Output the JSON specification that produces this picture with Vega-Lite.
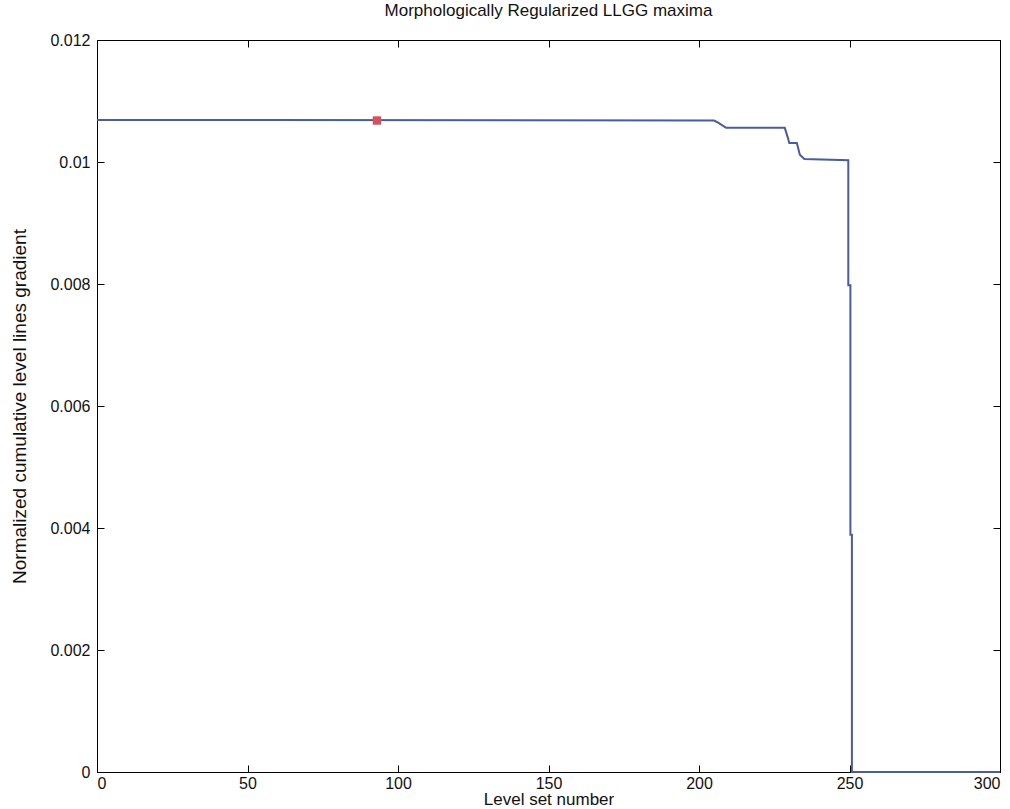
{
  "$schema": "https://vega.github.io/schema/vega-lite/v6.json",
  "autosize": "none",
  "width": 903,
  "height": 732,
  "padding": {"left": 97, "top": 40, "right": 10, "bottom": 37},
  "background": "white",
  "title": {"text": "Morphologically Regularized LLGG maxima", "font": "Liberation Sans", "fontSize": 17, "fontWeight": "normal", "color": "#111", "offset": 12},
  "config": {
    "view": {"stroke": "black", "strokeWidth": 1},
    "axis": {"labelFont": "Liberation Sans", "titleFont": "Liberation Sans", "labelFontSize": 16, "titleFontSize": 17, "titleFontWeight": "normal", "labelColor": "#111", "titleColor": "#111", "domainColor": "black", "tickColor": "black", "grid": false}
  },
  "datasets": {
    "curve": [
      {"i": 1, "level": 0, "value": 0.01069},
      {"i": 2, "level": 205, "value": 0.01068},
      {"i": 3, "level": 206.5, "value": 0.01064},
      {"i": 4, "level": 209, "value": 0.01056},
      {"i": 5, "level": 228.5, "value": 0.01056},
      {"i": 6, "level": 229.5, "value": 0.01040},
      {"i": 7, "level": 230, "value": 0.01031},
      {"i": 8, "level": 232.5, "value": 0.01031},
      {"i": 9, "level": 233.5, "value": 0.01012},
      {"i": 10, "level": 235, "value": 0.01005},
      {"i": 11, "level": 249.6, "value": 0.01003},
      {"i": 12, "level": 249.6, "value": 0.00798},
      {"i": 13, "level": 250.3, "value": 0.00798},
      {"i": 14, "level": 250.3, "value": 0.00389},
      {"i": 15, "level": 250.8, "value": 0.00389},
      {"i": 16, "level": 250.8, "value": 0},
      {"i": 17, "level": 300, "value": 0}
    ],
    "marker": [
      {"level": 93, "value": 0.01068}
    ]
  },
  "layer": [
    {
      "data": {"name": "curve"},
      "mark": {"type": "line", "color": "#4a5b9e", "strokeWidth": 2},
      "encoding": {
        "x": {"field": "level", "type": "quantitative", "scale": {"domain": [0, 300], "nice": false}, "axis": {"title": "Level set number", "values": [0, 50, 100, 150, 200, 250, 300], "tickSize": -7, "labelPadding": 10, "titlePadding": 0, "format": "d"}},
        "y": {"field": "value", "type": "quantitative", "scale": {"domain": [0, 0.012], "nice": false}, "axis": {"title": "Normalized cumulative level lines gradient", "values": [0, 0.002, 0.004, 0.006, 0.008, 0.01, 0.012], "tickSize": -7, "labelPadding": 14, "format": "~g", "titlePadding": 20, "titleFontSize": 19}},
        "order": {"field": "i", "type": "quantitative"}
      }
    },
    {
      "data": {"name": "marker"},
      "mark": {"type": "point", "shape": "square", "filled": true, "color": "#d4505c", "size": 70, "opacity": 1},
      "encoding": {
        "x": {"field": "level", "type": "quantitative", "axis": {"orient": "top", "title": null, "labels": false, "values": [0, 50, 100, 150, 200, 250, 300], "tickSize": -7}},
        "y": {"field": "value", "type": "quantitative", "axis": {"orient": "right", "title": null, "labels": false, "values": [0, 0.002, 0.004, 0.006, 0.008, 0.01, 0.012], "tickSize": -7}}
      }
    }
  ],
  "resolve": {"axis": {"x": "independent", "y": "independent"}}
}
